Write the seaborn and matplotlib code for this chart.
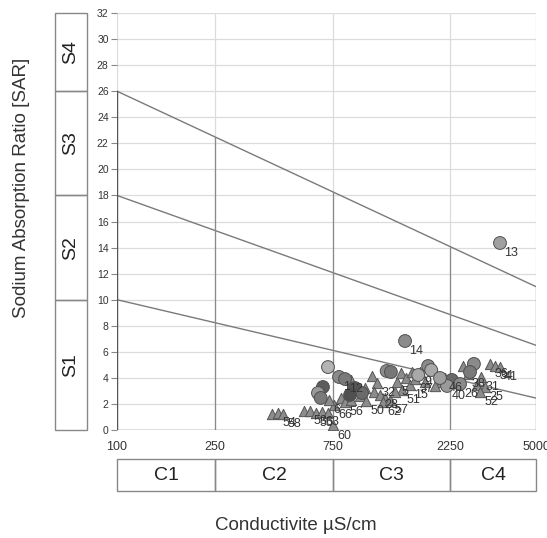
import numpy as np
import pandas as pd
import matplotlib
matplotlib.use("Agg")
import matplotlib.pyplot as plt
import seaborn as sns

sns.set_theme(style="white")
plt.rcParams['font.family'] = ['Liberation Sans', 'DejaVu Sans']

# ---- data ----
circle_ec = [3573, 1472, 717, 795, 684, 653, 670, 1240, 1290, 1826, 1880, 2800,
             2280, 2180, 2700, 2040, 923, 985, 1665, 2460, 881, 841]
circle_sar = [14.35, 6.83, 4.83, 4.07, 3.3, 2.84, 2.46, 4.53, 4.45, 4.91, 4.6, 5.07,
              3.84, 3.38, 4.45, 3.99, 3.22, 2.84, 4.22, 3.53, 2.69, 3.91]
circle_lab = ["13", "14", "", "1", "", "", "", "", "", "", "", "",
              "", "40", "", "", "", "", "", "26", "", "12"]
circle_shade = ["#a0a0a0", "#8c8c8c", "#b4b4b4", "#8a8a8a", "#5c5c5c", "#9a9a9a", "#7a7a7a",
                "#8c8c8c", "#777777", "#8a8a8a", "#a8a8a8", "#8a8a8a",
                "#6a6a6a", "#9a9a9a", "#7a7a7a", "#a0a0a0", "#555555", "#6a6a6a",
                "#a8a8a8", "#8a8a8a", "#505050", "#7a7a7a"]

tri_ec = [425, 449, 471, 571, 605, 640, 676, 717, 751, 761, 724, 810, 841, 890, 967,
          1024, 1082, 1137, 1098, 1165, 1221, 1200, 1279, 1365, 1420, 1485, 1430, 1542,
          1615, 1693, 1570, 2041, 2138, 2420, 2530, 2640, 2880, 3000, 3106, 2965, 3255,
          3410, 3573, 890, 1014, 1340, 1774, 1948]
tri_sar = [1.23, 1.3, 1.23, 1.46, 1.46, 1.3, 1.38, 1.3, 0.35, 1.92, 2.3, 2.46, 2.15, 2.3, 2.61,
           2.23, 4.14, 3.6, 2.92, 2.69, 2.46, 2.15, 2.3, 3.68, 4.37, 3.99, 3.07, 3.45,
           3.91, 4.45, 4.45, 3.68, 3.99, 3.6, 4.91, 4.3, 3.45, 4.07, 3.3, 2.92, 5.07,
           4.91, 4.83, 3.84, 3.22, 2.92, 3.68, 3.38]
tri_lab = ["", "54", "58", "", "53", "55", "63", "", "60", "66", "6", "", "56", "", "",
           "50", "", "32", "", "28", "", "62", "57", "5", "", "", "51", "15",
           "37", "9", "", "", "46", "", "", "38", "", "31", "25", "52", "36",
           "34", "41", "", "", "", "", ""]

x_ticks = [100, 250, 750, 2250, 5000]
y_ticks = list(range(0, 33, 2))
c_classes = ["C1", "C2", "C3", "C4"]
s_classes = ["S1", "S2", "S3", "S4"]
s_bounds = [0, 10, 18, 26, 32]
# SAR boundary lines: value at EC=100 and at EC=5000
line_start = [10, 18, 26]
line_end = [2.45, 6.5, 11.0]

dfc = pd.DataFrame({"ec": circle_ec, "sar": circle_sar, "lab": circle_lab, "shade": circle_shade})
dft = pd.DataFrame({"ec": tri_ec, "sar": tri_sar, "lab": tri_lab})

W, H = 547, 538
fig = plt.figure(figsize=(W / 100, H / 100), dpi=100)
fig.patch.set_facecolor("white")

ax = fig.add_axes([117 / W, 1 - 430 / H, (536 - 117) / W, (430 - 13) / H])
ax.set_xscale("log")
ax.set_xlim(100, 5000)
ax.set_ylim(0, 32)

grid_c = "#dcdcdc"
for yt in y_ticks[1:]:
    ax.axhline(yt, color=grid_c, lw=0.9, zorder=0)
for xt in x_ticks:
    ax.axvline(xt, color=grid_c, lw=0.9, zorder=0)

line_c = "#7a7a7a"
def line_val(i, x):
    t = (np.log10(x) - 2) / (np.log10(5000) - 2)
    return line_start[i] + (line_end[i] - line_start[i]) * t

for i in range(3):
    ax.plot([100, 5000], [line_start[i], line_end[i]], color=line_c, lw=1.0, zorder=1)
for xt in x_ticks[1:]:
    ax.plot([xt, xt], [0, line_val(2, xt)], color="#8a8a8a", lw=0.9, zorder=1)
ax.plot([100, 100], [0, 26], color="#555555", lw=1.0, zorder=1)
ax.axhline(0, color="#555555", lw=1.0, zorder=1)

for s in ax.spines.values():
    s.set_visible(False)

ax.set_yticks(y_ticks)
ax.set_yticklabels([str(v) for v in y_ticks], fontsize=7.5, color="#333333")
ax.set_xticks(x_ticks)
ax.set_xticklabels([str(v) for v in x_ticks], fontsize=9, color="#333333")
ax.xaxis.set_minor_locator(matplotlib.ticker.NullLocator())
ax.tick_params(axis="y", left=True, length=4, width=0.8, color="#888888", pad=2)
ax.tick_params(axis="x", bottom=False, pad=2)

sns.scatterplot(data=dft, x="ec", y="sar", marker="^", s=55, color="#8c8c8c",
                edgecolor="#555555", linewidth=0.7, ax=ax, zorder=3, legend=False)
sns.scatterplot(data=dfc, x="ec", y="sar", hue="shade",
                palette={c: c for c in set(circle_shade)}, marker="o", s=85,
                edgecolor="#505050", linewidth=0.7, ax=ax, zorder=4, legend=False)

for df in (dfc, dft):
    for _, r in df.iterrows():
        if r["lab"]:
            ax.annotate(r["lab"], (r["ec"], r["sar"]), xytext=(3, -3),
                        textcoords="offset points", ha="left", va="top",
                        fontsize=9, color="#333333", zorder=5)
ax.set_xlabel("")
ax.set_ylabel("")

# S boxes
axs = fig.add_axes([55 / W, 1 - 430 / H, 32 / W, (430 - 13) / H])
axs.set_xlim(0, 1)
axs.set_ylim(0, 32)
axs.axis("off")
for i, lab in enumerate(s_classes):
    lo, hi = s_bounds[i], s_bounds[i + 1]
    axs.add_patch(plt.Rectangle((0, lo), 1, hi - lo, fill=False, ec="#888888", lw=1.0, clip_on=False))
    axs.text(0.5, (lo + hi) / 2, lab, rotation=90, ha="center", va="center", fontsize=14, color="#222222")

# C boxes
axc = fig.add_axes([117 / W, 1 - 491 / H, (536 - 117) / W, 32 / H])
axc.set_xscale("log")
axc.set_xlim(100, 5000)
axc.set_ylim(0, 1)
axc.axis("off")
for i, lab in enumerate(c_classes):
    lo, hi = x_ticks[i], x_ticks[i + 1]
    axc.add_patch(plt.Rectangle((lo, 0), hi - lo, 1, fill=False, ec="#888888", lw=1.0, clip_on=False))
    axc.text(np.sqrt(lo * hi), 0.5, lab, ha="center", va="center", fontsize=14, color="#222222")

fig.text(22 / W, 1 - 188 / H, "Sodium Absorption Ratio [SAR]", rotation=90,
         ha="center", va="center", fontsize=13.5, color="#333333")
fig.text(296 / W, 1 - 526 / H, "Conductivite µS/cm", ha="center", va="center",
         fontsize=13.5, color="#333333")

fig.savefig("out.png", dpi=100, facecolor="white")
